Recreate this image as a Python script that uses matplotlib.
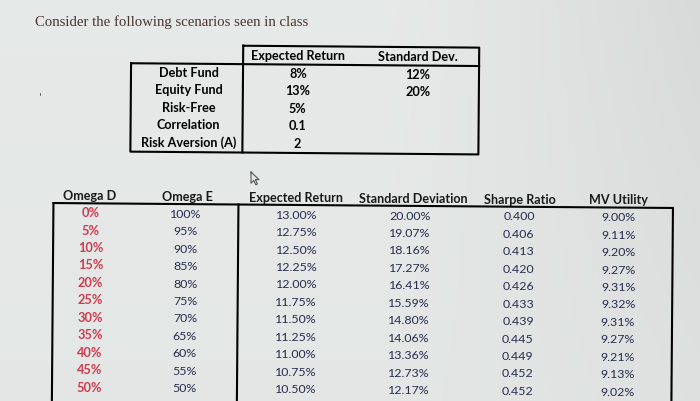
import matplotlib
matplotlib.use("Agg")
import matplotlib.pyplot as plt
import numpy as np

# ---- data ----
title = "Consider the following scenarios seen in class"

top_labels = ["Debt Fund", "Equity Fund", "Risk-Free", "Correlation", "Risk Aversion (A)"]
top_headers = ["Expected Return", "Standard Dev."]
top_exp_ret = ["8%", "13%", "5%", "0.1", "2"]
top_std_dev = ["12%", "20%", "", "", ""]

headers = ["Omega D", "Omega E", "Expected Return", "Standard Deviation", "Sharpe Ratio", "MV Utility"]
omega_d = [0, 5, 10, 15, 20, 25, 30, 35, 40, 45, 50]
omega_e = [100, 95, 90, 85, 80, 75, 70, 65, 60, 55, 50]
exp_ret = [13.00, 12.75, 12.50, 12.25, 12.00, 11.75, 11.50, 11.25, 11.00, 10.75, 10.50]
std_dev = [20.00, 19.07, 18.16, 17.27, 16.41, 15.59, 14.80, 14.06, 13.36, 12.73, 12.17]
sharpe = [0.400, 0.406, 0.413, 0.420, 0.426, 0.433, 0.439, 0.445, 0.449, 0.452, 0.452]
mv_util = [9.00, 9.11, 9.20, 9.27, 9.31, 9.32, 9.31, 9.27, 9.21, 9.13, 9.02]

# ---- figure ----
W, H = 700, 401
fig = plt.figure(figsize=(W / 100, H / 100), dpi=100)
ax = fig.add_axes([0, 0, 1, 1])
ax.set_xlim(0, W)
ax.set_ylim(H, 0)
ax.axis("off")

# background (photo of a screen: light grey, darker to the right)
gx = np.linspace(0, 1, 200)
gy = np.linspace(0, 1, 120)
GX, GY = np.meshgrid(gx, gy)
val = 0.915 - 0.07 * np.clip(GX - 0.55, 0, None) ** 1.2 * 2.2 * (1 - 0.6 * GY) - 0.01 * GY
bg = np.dstack([val * 0.985, val, val * 0.995])
bg = np.clip(bg, 0, 1)
ax.imshow(bg, extent=[0, W, H, 0], aspect="auto", zorder=0, interpolation="bilinear")

# the photo is slightly rotated: small shear applied to layout positions
K = 0.008


def tilt(x, y):
    x = np.asarray(x, dtype=float)
    y = np.asarray(y, dtype=float)
    return x - K * (y - 200), y + K * (x - 350)


FONT = "Lato"
dark = "#272d4f"
red = "#cf3c4e"
BS = 9.1   # bold size
VS = 8.9   # value size


def cap_half(size):
    return 0.36 * size * 100 / 72


def put(x, y, s, size, color, weight="normal"):
    tx, ty = tilt(x, y)
    ax.text(tx, ty + cap_half(size), s, fontsize=size, family=FONT, weight=weight,
            color=color, ha="center", va="baseline", zorder=4)


def line(xs, ys, lw=1.5):
    tx, ty = tilt(xs, ys)
    ax.plot(tx, ty, color="black", lw=lw, zorder=3, solid_capstyle="projecting")


ax.text(35, 22, title, fontsize=10.6, family="Liberation Serif", color="#4a3432",
        va="center", ha="left")
ax.text(40, 97, "'", fontsize=8, color="#555555", va="center", ha="center")

# ---- top table ----
t_left, t_sep, t_right = 130, 242, 478
t_top, t_head, t_bot = 46.6, 65.0, 153.4
line([t_sep, t_right, t_right, t_sep, t_sep], [t_top, t_top, t_bot, t_bot, t_top])
line([t_left, t_right], [t_head, t_head])
line([t_left, t_left, t_sep], [t_head, t_bot, t_bot])

top_cols = [297, 417]
for x, h in zip(top_cols, top_headers):
    put(x, 55.6, h, BS, "black", "bold")
row_y0, row_dy = 73.8, 17.4
for i, lab in enumerate(top_labels):
    y = row_y0 + i * row_dy
    put(188, y, lab, BS, "black", "bold")
    put(top_cols[0], y, top_exp_ret[i], BS, "black", "bold")
    if top_std_dev[i]:
        put(top_cols[1], y, top_std_dev[i], BS, "black", "bold")

# mouse cursor
cur = np.array([[0, 0], [0, 14], [3.5, 10.5], [6, 16], [8, 15], [5.5, 9.5], [10, 9.5], [0, 0]])
ax.plot(251 + cur[:, 0] * 0.8, 172 + cur[:, 1] * 0.8, color="#555555", lw=0.8, zorder=3)

# ---- main table ----
b_left, b_sep, b_right, b_top = 53.5, 238.5, 673, 205.4
line([b_left, b_right], [b_top, b_top])
line([b_left, b_left], [b_top, H + 5])
line([b_sep, b_sep], [b_top, H + 5])
line([b_right, b_right], [b_top, H + 5])

col_x = [91, 186, 297, 410, 519, 619]
head_x = [90, 187, 296, 413, 520, 618]
for x, h in zip(head_x, headers):
    put(x, 197.6, h, BS, "#1a1a1a", "bold")

r0, dr = 214.6, 17.45
for i in range(len(omega_d)):
    y = r0 + i * dr
    put(col_x[0], y, f"{omega_d[i]}%", 9.2, red, "bold")
    put(col_x[1], y, f"{omega_e[i]}%", VS, dark)
    put(col_x[2], y, f"{exp_ret[i]:.2f}%", VS, dark)
    put(col_x[3], y, f"{std_dev[i]:.2f}%", VS, dark)
    put(col_x[4], y, f"{sharpe[i]:.3f}", VS, dark)
    put(col_x[5], y, f"{mv_util[i]:.2f}%", VS, dark)

fig.savefig("out.png", dpi=100)
